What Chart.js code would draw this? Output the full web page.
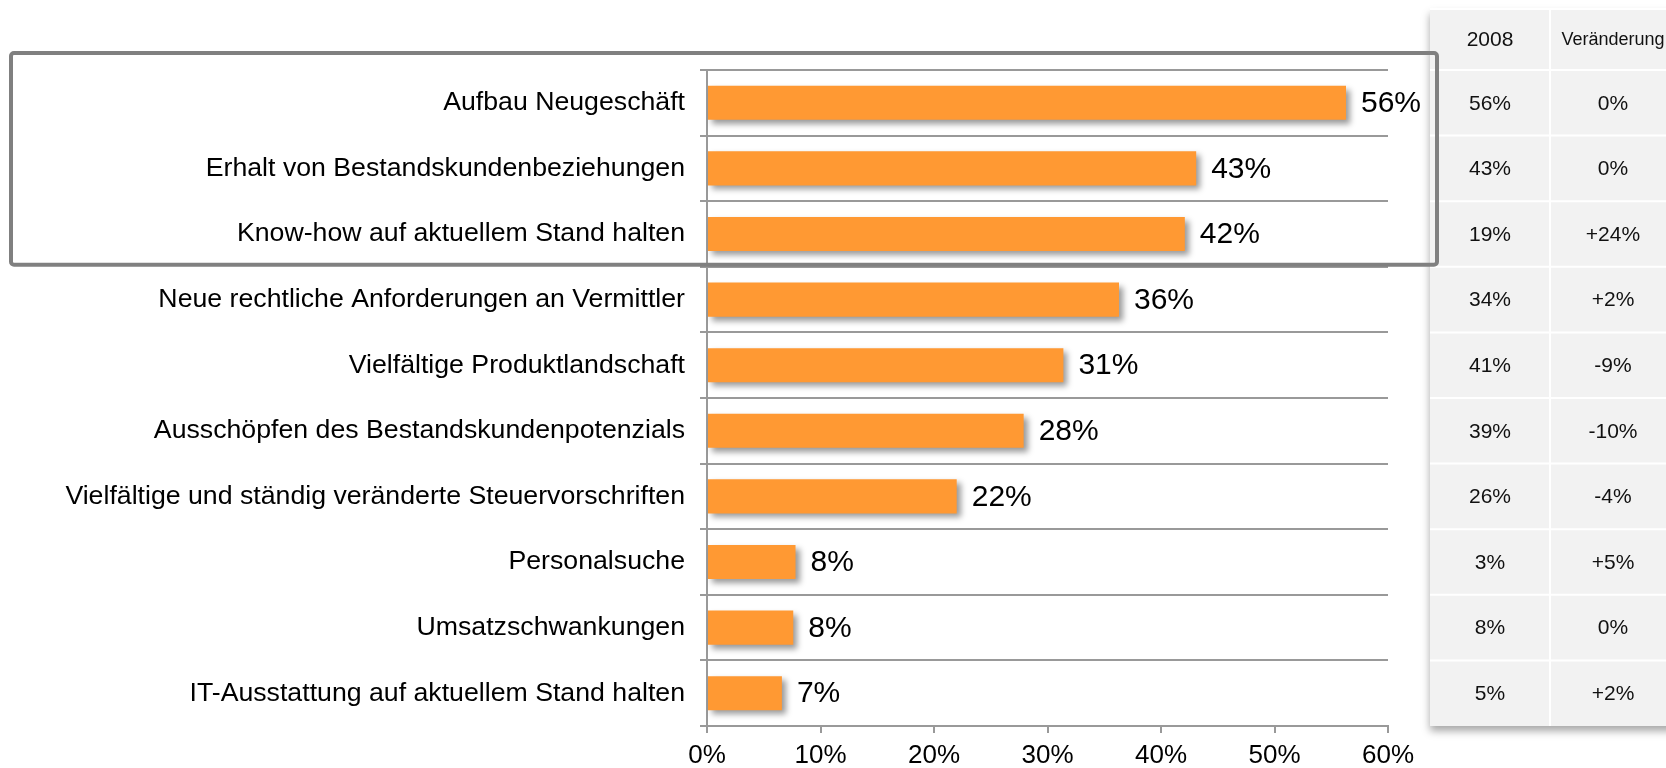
<!DOCTYPE html>
<html>
<head>
<meta charset="utf-8">
<script src="https://cdn.jsdelivr.net/npm/chart.js@4"></script>
<style>
  body { margin: 0; background: #fff; }
  #wrap { width: 1666px; height: 768px; position: relative; }
</style>
</head>
<body>
<div id="wrap"><canvas id="chart" width="1666" height="768"></canvas></div>
<script>
const categories = [
  "Aufbau Neugeschäft",
  "Erhalt von Bestandskundenbeziehungen",
  "Know-how auf aktuellem Stand halten",
  "Neue rechtliche Anforderungen an Vermittler",
  "Vielfältige Produktlandschaft",
  "Ausschöpfen des Bestandskundenpotenzials",
  "Vielfältige und ständig veränderte Steuervorschriften",
  "Personalsuche",
  "Umsatzschwankungen",
  "IT-Ausstattung auf aktuellem Stand halten"
];
const values = [56.3, 43.1, 42.1, 36.3, 31.4, 27.9, 22.0, 7.8, 7.6, 6.6];
const xTicks = [0, 10, 20, 30, 40, 50, 60];

const tableHeaders = ["2008", "Veränderung"];
const values2008 = [56, 43, 19, 34, 41, 39, 26, 3, 8, 5];
const changes = [0, 0, 24, 2, -9, -10, -4, 5, 0, 2];
const highlighted = [0, 2]; // first and last row inside the grey frame

const FONT = "'Liberation Sans', Arial, sans-serif";

// bars get a soft shadow like the original
const barShadow = {
  id: "barShadow",
  beforeDatasetsDraw(chart) {
    const ctx = chart.ctx;
    ctx.save();
    ctx.shadowColor = "rgba(0,0,0,0.4)";
    ctx.shadowBlur = 6;
    ctx.shadowOffsetX = 4;
    ctx.shadowOffsetY = 4;
  },
  afterDatasetsDraw(chart) {
    chart.ctx.restore();
  }
};

const valueLabels = {
  id: "valueLabels",
  afterDraw(chart) {
    const ctx = chart.ctx;
    const meta = chart.getDatasetMeta(0);
    ctx.save();
    ctx.font = "30px " + FONT;
    ctx.fillStyle = "#000";
    ctx.textAlign = "left";
    ctx.textBaseline = "middle";
    meta.data.forEach((bar, i) => {
      ctx.fillText(Math.round(values[i]) + "%", bar.x + 15, bar.y + 1);
    });
    ctx.restore();
  }
};

// comparison table on the right, rows follow the category scale
const sideTable = {
  id: "sideTable",
  beforeDraw(chart) {
    const ctx = chart.ctx;
    const y = chart.scales.y;
    const band = (y.bottom - y.top) / categories.length;
    const x0 = 1430, xMid = 1550, x1 = 1680, top = 9;
    ctx.save();
    ctx.shadowColor = "rgba(0,0,0,0.35)";
    ctx.shadowBlur = 8;
    ctx.shadowOffsetY = 5;
    ctx.fillStyle = "#f2f2f2";
    ctx.fillRect(x0, top, x1 - x0, y.bottom - top);
    ctx.restore();

    ctx.save();
    ctx.strokeStyle = "#ffffff";
    ctx.lineWidth = 2;
    ctx.beginPath();
    ctx.moveTo(xMid, top); ctx.lineTo(xMid, y.bottom);
    for (let i = 0; i < categories.length; i++) {
      const yy = y.getPixelForValue(i) - band / 2;
      ctx.moveTo(x0, yy); ctx.lineTo(x1, yy);
    }
    ctx.moveTo(x0, top); ctx.lineTo(x1, top);
    ctx.stroke();

    ctx.fillStyle = "#111";
    ctx.textAlign = "center";
    ctx.textBaseline = "middle";
    const headY = (top + y.top) / 2 + 1;
    ctx.font = "21px " + FONT;
    ctx.fillText(tableHeaders[0], (x0 + xMid) / 2, headY);
    ctx.font = "18px " + FONT;
    ctx.fillText(tableHeaders[1], 1613, headY);
    ctx.font = "21px " + FONT;
    for (let i = 0; i < categories.length; i++) {
      const cy = y.getPixelForValue(i) + 1;
      ctx.fillText(values2008[i] + "%", (x0 + xMid) / 2, cy);
      const c = changes[i];
      ctx.fillText((c > 0 ? "+" : "") + c + "%", 1613, cy);
    }
    ctx.restore();
  }
};

const frameBox = {
  id: "frameBox",
  afterDraw(chart) {
    const ctx = chart.ctx;
    const y = chart.scales.y;
    const band = (y.bottom - y.top) / categories.length;
    const top = y.getPixelForValue(highlighted[0]) - band * 0.76;
    const bottom = y.getPixelForValue(highlighted[1]) + band * 0.47;
    ctx.save();
    ctx.strokeStyle = "#808080";
    ctx.lineWidth = 4;
    ctx.beginPath();
    ctx.roundRect(11, top, 1437 - 11, bottom - top, 3);
    ctx.stroke();
    ctx.restore();
  }
};

new Chart(document.getElementById("chart"), {
  type: "bar",
  data: {
    labels: categories,
    datasets: [{
      data: values,
      backgroundColor: "#FF9933",
      borderWidth: 0,
      barPercentage: 0.52,
      categoryPercentage: 1
    }]
  },
  options: {
    indexAxis: "y",
    responsive: false,
    animation: false,
    devicePixelRatio: 1,
    layout: { padding: { left: 0, top: 70, right: 278, bottom: 0 } },
    plugins: {
      legend: { display: false },
      tooltip: { enabled: false }
    },
    scales: {
      x: {
        min: 0,
        max: 60,
        afterBuildTicks: (scale) => { scale.ticks = xTicks.map(v => ({ value: v })); },
        afterFit: (scale) => { scale.height = 42; },
        ticks: {
          callback: (v) => v + "%",
          font: { size: 26, family: FONT },
          color: "#000",
          padding: 7,
          maxRotation: 0
        },
        grid: { drawOnChartArea: false, drawTicks: true, tickLength: 7, color: "#999", lineWidth: 2 },
        border: { color: "#999", width: 2 }
      },
      y: {
        afterFit: (scale) => { scale.width = 707; },
        ticks: {
          font: { size: 26.7, family: FONT },
          color: "#000",
          padding: 15
        },
        grid: { offset: true, color: "#999", lineWidth: 2, tickLength: 7 },
        border: { color: "#999", width: 2 }
      }
    }
  },
  plugins: [sideTable, barShadow, valueLabels, frameBox]
});
</script>
</body>
</html>
